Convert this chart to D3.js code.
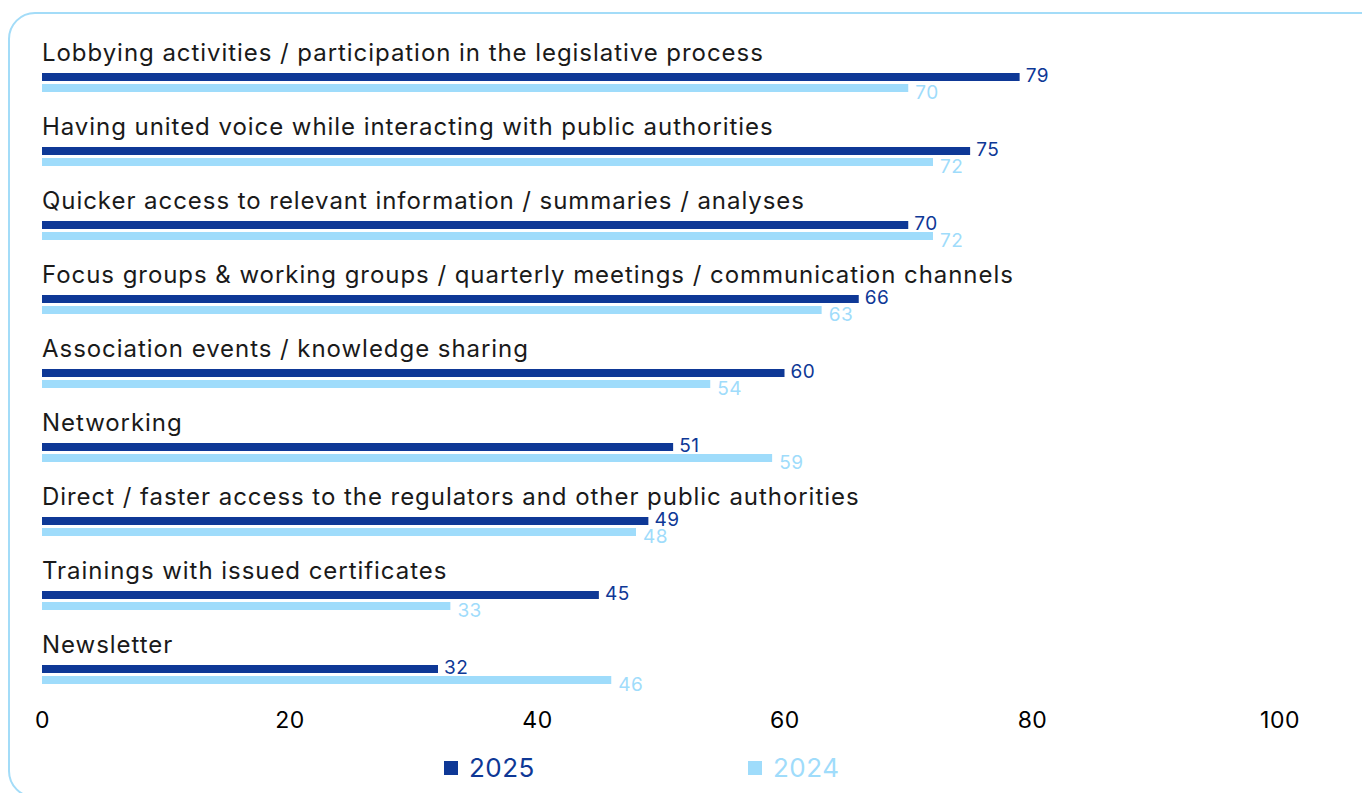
<!DOCTYPE html>
<html>
<head>
<meta charset="utf-8">
<script src="https://cdn.jsdelivr.net/npm/d3@7"></script>
<style>
  html, body { margin: 0; padding: 0; background: #ffffff; }
  svg { display: block; }
  text { font-family: Inter, "DejaVu Sans", sans-serif; }
</style>
</head>
<body>
<svg id="chart" width="1362" height="793"></svg>
<script>
// Reasons for membership, share of respondents (%)
const categories = [
  "Lobbying activities / participation in the legislative process",
  "Having united voice while interacting with public authorities",
  "Quicker access to relevant information / summaries / analyses",
  "Focus groups & working groups / quarterly meetings / communication channels",
  "Association events / knowledge sharing",
  "Networking",
  "Direct / faster access to the regulators and other public authorities",
  "Trainings with issued certificates",
  "Newsletter"
];
const values2025 = [79, 75, 70, 66, 60, 51, 49, 45, 32];
const values2024 = [70, 72, 72, 63, 54, 59, 48, 33, 46];
const seriesNames = ["2025", "2024"];
const xTicks = [0, 20, 40, 60, 80, 100];

const DARK = "#0e3896";
const LIGHT = "#9fdcfb";

const svg = d3.select("#chart");

// rounded frame around the chart
svg.append("rect")
  .attr("x", 9).attr("y", 13)
  .attr("width", 1380).attr("height", 784)
  .attr("rx", 26).attr("ry", 26)
  .attr("fill", "none")
  .attr("stroke", "#a3dcf8")
  .attr("stroke-width", 2);

const x = d3.scaleLinear().domain([0, 100]).range([42, 1279.5]);
const y = d3.scaleBand().domain(categories).range([48, 48 + 74 * categories.length]).padding(0);

const rows = categories.map((c, i) => ({ cat: c, v25: values2025[i], v24: values2024[i] }));

const g = svg.append("g");
const row = g.selectAll("g.row").data(rows).join("g")
  .attr("class", "row")
  .attr("transform", d => `translate(0,${y(d.cat)})`);

// category label above each pair of bars
row.append("text")
  .attr("x", x(0))
  .attr("y", 13)
  .attr("font-size", 24)
  .attr("letter-spacing", 0.95)
  .attr("fill", "#1a1a1a")
  .text(d => d.cat);

// 2025 bar
row.append("rect")
  .attr("x", x(0))
  .attr("y", 25)
  .attr("width", d => x(d.v25) - x(0))
  .attr("height", 8)
  .attr("fill", DARK);

// 2024 bar
row.append("rect")
  .attr("x", x(0))
  .attr("y", 36)
  .attr("width", d => x(d.v24) - x(0))
  .attr("height", 8)
  .attr("fill", LIGHT);

// value labels
row.append("text")
  .attr("x", d => x(d.v25) + 6)
  .attr("y", 34)
  .attr("font-size", 19)
  .attr("letter-spacing", 0.5)
  .attr("fill", DARK)
  .text(d => d.v25);

row.append("text")
  .attr("x", d => x(d.v24) + 7)
  .attr("y", 51)
  .attr("font-size", 19)
  .attr("letter-spacing", 0.5)
  .attr("fill", LIGHT)
  .text(d => d.v24);

// x axis
const axis = d3.axisBottom(x).tickValues(xTicks).tickSize(0).tickPadding(12);
const ax = svg.append("g").attr("transform", "translate(0,700)").call(axis);
ax.select(".domain").remove();
ax.selectAll("text")
  .attr("font-size", 23)
  .attr("letter-spacing", 0.5)
  .attr("fill", "#000000")
  .style("font-family", "Inter, 'DejaVu Sans', sans-serif");

// legend
const legendX = [444, 748];
const legendColors = [DARK, LIGHT];
const leg = svg.append("g").selectAll("g").data(seriesNames).join("g")
  .attr("transform", (d, i) => `translate(${legendX[i]},761)`);
leg.append("rect")
  .attr("width", 14).attr("height", 14)
  .attr("fill", (d, i) => legendColors[i]);
leg.append("text")
  .attr("x", 25)
  .attr("y", 16)
  .attr("font-size", 26)
  .attr("letter-spacing", 0.5)
  .attr("fill", (d, i) => legendColors[i])
  .text(d => d);
</script>
</body>
</html>
